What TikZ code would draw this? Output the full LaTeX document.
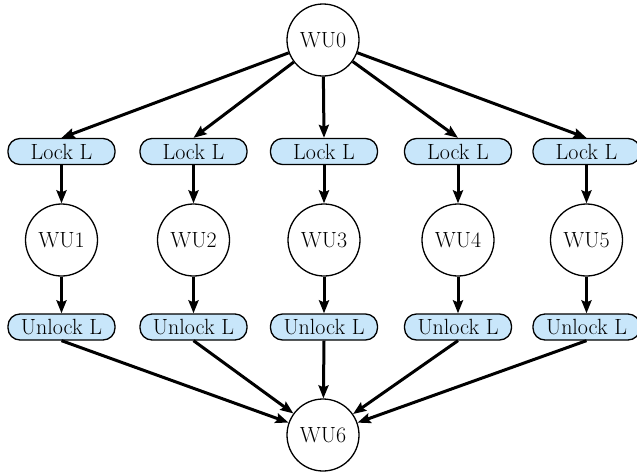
\documentclass[tikz,border=0pt]{standalone}
\usetikzlibrary{arrows.meta}
\definecolor{boxblue}{RGB}{200,230,250}
\begin{document}
\begin{tikzpicture}[x=1pt,y=-1pt,
  wu/.style={circle,draw,line width=1.3pt,minimum size=72pt,inner sep=0pt,font=\fontsize{22}{26}\selectfont},
  lk/.style={rounded corners=12pt,draw,line width=1.3pt,fill=boxblue,minimum width=107pt,minimum height=26pt,inner sep=0pt,font=\fontsize{22}{26}\selectfont},
  edge/.style={line width=3pt,-{Stealth[length=13pt,width=10pt,inset=2pt]}}]
\useasboundingbox (0,0) rectangle (637,472);
\node[wu] (w0) at (323,40) {WU0};
\node[wu] (w6) at (323,435) {WU6};
\foreach \i/\x in {1/61.5,2/193.5,3/324,4/458,5/586.5}{
  \node[lk] (l\i) at (\x,151.5) {Lock L};
  \node[wu] (w\i) at (\x,240) {WU\i};
  \node[lk] (u\i) at (\x,327) {Unlock L};
  \draw[edge] (w0) -- (l\i.north);
  \draw[edge] (l\i) -- (w\i);
  \draw[edge] (w\i) -- (u\i);
  \draw[edge] (u\i.south) -- (w6);
}
\end{tikzpicture}
\end{document}
